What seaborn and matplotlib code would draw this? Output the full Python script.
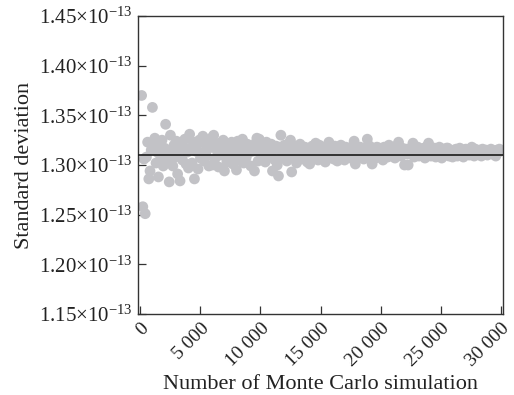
import numpy as np
import pandas as pd
import matplotlib
matplotlib.use("Agg")
import matplotlib.pyplot as plt
import seaborn as sns

# Monte Carlo runs (every 100 simulations)
n_runs = list(range(100, 30001, 100))

# Standard deviation estimates, as offsets from 1.311e-13 in units of 1e-16
offsets = [
    59, -53, -5, -60, -3, 12, -25, -17, 4, 47, 8, 16, -9, 2, -23, 10, -4, 14, -12, 6,
    30, 1, -8, -28, 19, 5, -12, 9, -3, 13, -20, 4, -27, 11, -6, 7, 15, -10, 2, -14,
    20, 6, -9, 12, -25, 3, 9, -15, 14, -4, 1, 18, -7, 10, -2, 5, -12, 8, 16, -11,
    19, -5, 7, 3, -13, 11, -1, 6, 14, -17, 2, -8, 9, 4, -3, 12, -10, 5, 0, -16,
    13, -6, 8, 2, 15, -9, 4, -4, 10, 1, 6, -12, 7, 3, -17, 11, 16, -7, 15, 2,
    -5, 9, 3, -8, 12, -2, 6, 0, 10, -17, 4, -6, 8, -11, -22, 7, 19, 1, -4, 9,
    5, -7, 3, 11, 14, -18, -3, 8, 2, -9, 6, 0, 10, -5, 4, -2, 7, 1, -8, 5,
    -10, 3, 8, -4, 6, 11, 0, -6, 9, 2, -3, 5, 7, -8, 1, 4, 12, -2, 6, 0,
    -5, 8, 3, -7, 5, 1, 9, -3, 4, -6, 7, 2, -1, 6, -4, 3, 8, 13, -10, 2,
    5, -3, 7, 0, 4, -5, 6, 2, 15, -2, 8, 3, -10, 5, 1, -4, 7, 2, 6, -1,
    4, -6, 7, 1, 5, -3, 9, 2, -1, 6, 3, -4, 8, 0, 12, 4, -2, 6, 1, -11,
    5, 0, -11, 3, 6, 2, 11, -3, 4, 1, 7, -2, 5, 3, 0, 6, -4, 2, 8, 11,
    3, -2, 5, 1, 6, -3, 4, 2, 7, 0, -4, 5, 3, 1, 6, 6, -2, 4, 2, -3,
    4, 1, 5, -2, 3, 6, 0, 4, -3, 2, 5, 1, 3, -1, 4, 7, 2, -2, 5, 1,
    3, 0, 4, -2, 5, 2, 1, 4, -1, 3, 2, 5, 0, 3, 1, -2, 4, 2, 5, 3,
]
center = 1.311e-13
mean_line = 1.3105e-13

y_ticks = [1.15e-13, 1.20e-13, 1.25e-13, 1.30e-13, 1.35e-13, 1.40e-13, 1.45e-13]
y_ticklabels = ["1.15×10$^{-13}$", "1.20×10$^{-13}$", "1.25×10$^{-13}$", "1.30×10$^{-13}$",
                "1.35×10$^{-13}$", "1.40×10$^{-13}$", "1.45×10$^{-13}$"]
x_ticks = [0, 5000, 10000, 15000, 20000, 25000, 30000]
x_ticklabels = ["0", "5 000", "10 000", "15 000", "20 000", "25 000", "30 000"]

df = pd.DataFrame({"runs": n_runs, "std": [center + o * 1e-16 for o in offsets]})

sns.set_theme(style="white")
plt.rcParams["font.family"] = ["Liberation Serif", "DejaVu Serif"]
plt.rcParams["mathtext.fontset"] = "custom"
plt.rcParams["mathtext.rm"] = "Liberation Serif"
plt.rcParams["mathtext.it"] = "Liberation Serif:italic"

fig = plt.figure(figsize=(5.14, 3.95), dpi=100)
ax = fig.add_axes([0.2685, 0.205, 0.7101, 0.7545])

sns.scatterplot(data=df, x="runs", y="std", ax=ax, color="#c2c2c6",
                s=60, edgecolor="none", linewidth=0, zorder=2)
ax.axhline(mean_line, color="#1a1a1a", lw=1.2, zorder=3)

ax.set_xlim(-200, 30200)
ax.set_ylim(1.15e-13, 1.45e-13)
ax.set_yticks(y_ticks)
ax.set_yticklabels(y_ticklabels, fontsize=15)
ax.set_xticks(x_ticks)
ax.set_xticklabels(x_ticklabels, fontsize=14, rotation=45, ha="right",
                   rotation_mode="anchor")
ax.tick_params(direction="in", length=6, width=0.9, color="#333333",
               left=True, bottom=True, pad=4, labelcolor="#222222")
for sp in ax.spines.values():
    sp.set_color("#333333")
    sp.set_linewidth(1.0)

ax.set_xlabel("Number of Monte Carlo simulation", fontsize=16, color="#222222")
ax.set_ylabel("Standard deviation", fontsize=16, color="#222222")
ax.xaxis.set_label_coords(0.5, -0.205)
ax.yaxis.set_label_coords(-0.285, 0.5)

fig.savefig("out.png", dpi=100)
